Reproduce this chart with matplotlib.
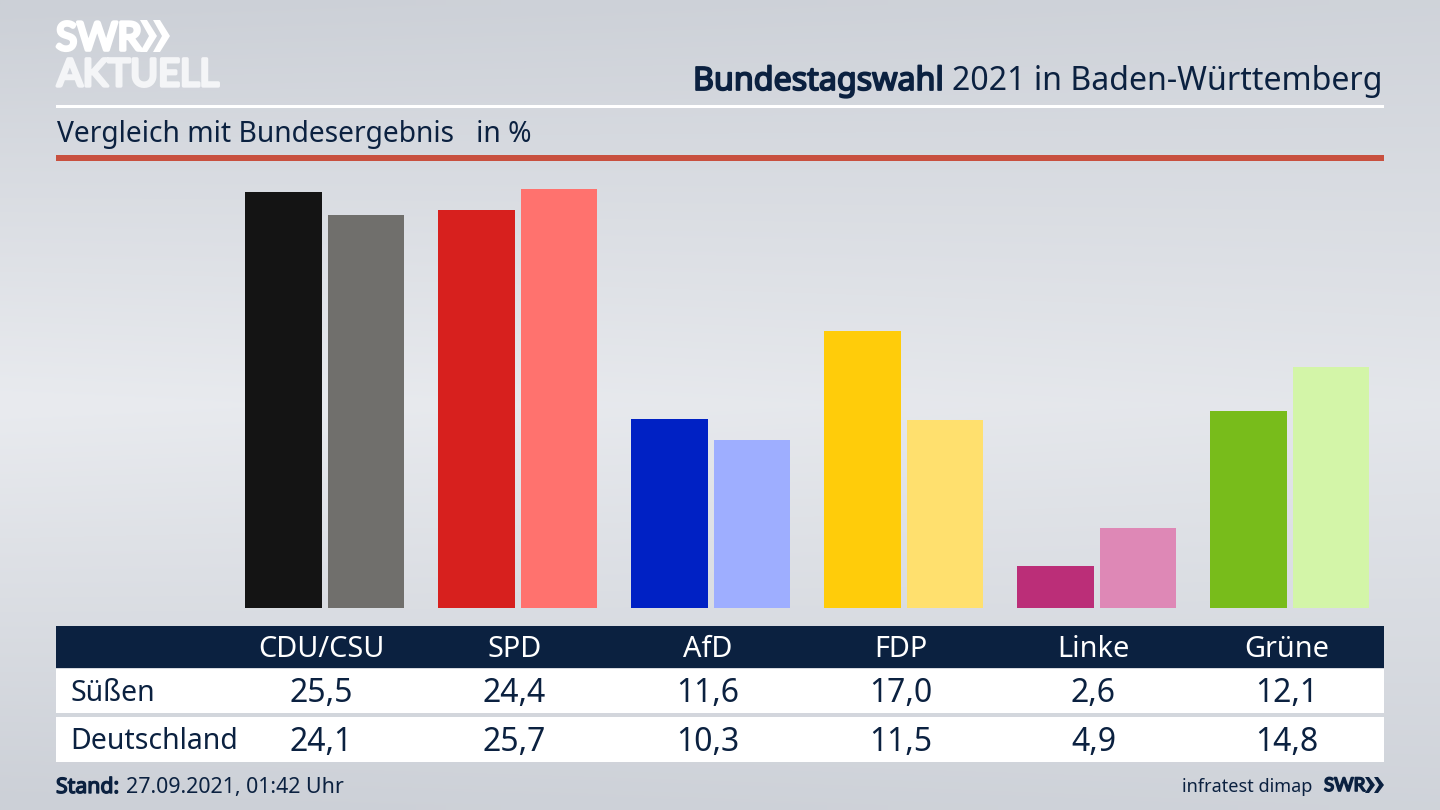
import numpy as np
import matplotlib
matplotlib.use("Agg")
import matplotlib.pyplot as plt
import matplotlib.patheffects as pe
from matplotlib.patches import Rectangle, Polygon

parties = ["CDU/CSU", "SPD", "AfD", "FDP", "Linke", "Grüne"]
suessen = [25.5, 24.4, 11.6, 17.0, 2.6, 12.1]
deutschland = [24.1, 25.7, 10.3, 11.5, 4.9, 14.8]
colors_local = ["#141414", "#d7201e", "#0021c4", "#ffcc0a", "#bb2e78", "#78bc1b"]
colors_national = ["#706f6c", "#ff726e", "#9eaeff", "#ffe06e", "#de88b6", "#d3f5a8"]
row_names = ["Süßen", "Deutschland"]

NAVY = "#0b2140"
plt.rcParams["font.family"] = ["Noto Sans", "DejaVu Sans"]


def fat(color, width):
    # the installed Noto has no bold cut here, so thicken it with a stroke
    return [pe.withStroke(linewidth=width, foreground=color)]


fig = plt.figure(figsize=(14.4, 8.1), dpi=100)

# whole figure in pixels, y going down
bg = fig.add_axes([0, 0, 1, 1], zorder=0)
bg.set_xlim(0, 1440)
bg.set_ylim(810, 0)
bg.axis("off")

yy, xx = np.mgrid[0:1:81j, 0:1:144j]
shade = 1 - np.abs(yy - 0.5) * 2
shade = shade * (1 - 0.3 * xx) + 0.12 * xx
top = np.array([204, 208, 215]) / 255
mid = np.array([233, 235, 239]) / 255
img = top[None, None, :] + (mid - top)[None, None, :] * shade[..., None]
bg.imshow(img, extent=[0, 1440, 810, 0], aspect="auto", interpolation="bilinear")

# header
bg.text(56, 50, "SWR", color="white", fontsize=28, family="Lato", va="baseline",
        path_effects=fat("white", 2.6))
bg.text(57, 86, "AKTUELL", color="#f4f5f7", fontsize=27.3, family="Lato", va="baseline",
        path_effects=fat("#f4f5f7", 2.4))
for x0 in (140, 153):
    bg.add_patch(Polygon([(x0, 20), (x0 + 7, 20), (x0 + 17, 36), (x0 + 7, 52), (x0, 52), (x0 + 9, 36)],
                         color="white", lw=0))

bg.text(1383, 90, "2021 in Baden-Württemberg", color=NAVY, fontsize=23.1, ha="right", va="baseline")
bg.text(944, 90, "Bundestagswahl", color=NAVY, fontsize=23.2, ha="right", va="baseline",
        path_effects=fat(NAVY, 1.3))
bg.add_patch(Rectangle((56, 105), 1328, 2.5, color="white", lw=0))
bg.text(57, 142, "Vergleich mit Bundesergebnis   in %", color=NAVY, fontsize=20.3, va="baseline")
bg.add_patch(Rectangle((56, 155), 1328, 5.5, color="#c8503f", lw=0))

# bars
ax = fig.add_axes([56 / 1440, (810 - 608) / 810, 1328 / 1440, 443 / 810], zorder=1)
ax.patch.set_alpha(0)
ax.axis("off")
x = np.arange(len(parties))
ax.bar(x - 0.2124, suessen, width=0.397, color=colors_local)
ax.bar(x + 0.2145, deutschland, width=0.397, color=colors_national)
ax.set_xlim(-1.391, 5.4896)
ax.set_ylim(0, 27.15)

# table
bg.add_patch(Rectangle((56, 626), 1328, 42, color=NAVY, lw=0))
bg.add_patch(Rectangle((56, 669), 1328, 44, color="white", lw=0))
bg.add_patch(Rectangle((56, 717), 1328, 45, color="white", lw=0))

for i, p in enumerate(parties):
    cx = 321.5 + 193 * i
    bg.text(cx, 657, p, color="white", fontsize=20.8, ha="center", va="baseline")
    bg.text(cx, 702, f"{suessen[i]:.1f}".replace(".", ","), color=NAVY, fontsize=23, ha="center", va="baseline")
    bg.text(cx, 751, f"{deutschland[i]:.1f}".replace(".", ","), color=NAVY, fontsize=23, ha="center", va="baseline")

bg.text(70, 701, row_names[0], color=NAVY, fontsize=20.5, va="baseline")
bg.text(70, 749, row_names[1], color=NAVY, fontsize=20.5, va="baseline")

# footer
bg.text(56, 793, "Stand:", color=NAVY, fontsize=15.3, va="baseline", path_effects=fat(NAVY, 1.0))
bg.text(126, 793, "27.09.2021, 01:42 Uhr", color=NAVY, fontsize=15.4, va="baseline")
bg.text(1312, 792, "infratest dimap", color=NAVY, fontsize=13, ha="right", va="baseline")
bg.text(1324, 791, "SWR", color=NAVY, fontsize=13.5, family="Lato", va="baseline", path_effects=fat(NAVY, 1.2))
for x0 in (1365, 1374):
    bg.add_patch(Polygon([(x0, 777), (x0 + 4, 777), (x0 + 10, 785), (x0 + 4, 793), (x0, 793), (x0 + 5, 785)],
                         color=NAVY, lw=0))

fig.savefig("out.png", dpi=100)
